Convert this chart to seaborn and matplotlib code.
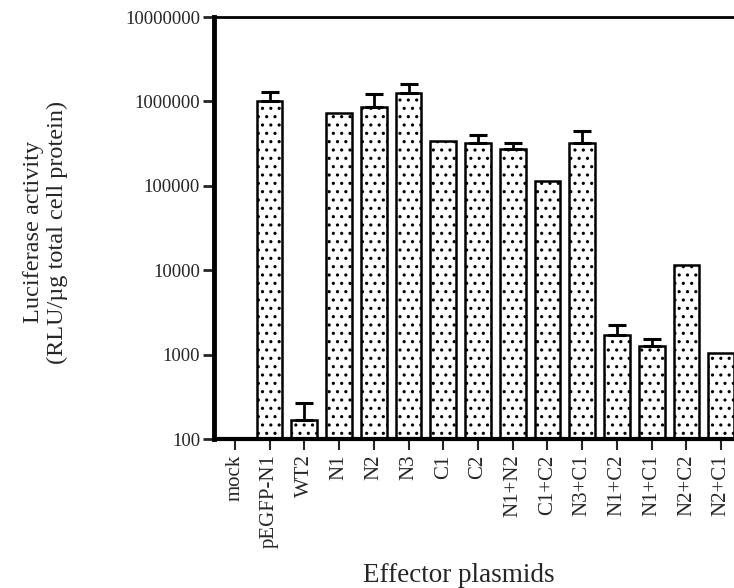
import numpy as np
import pandas as pd
import matplotlib
matplotlib.use('Agg')
import matplotlib.pyplot as plt
import seaborn as sns
from matplotlib.ticker import FixedLocator, FuncFormatter, NullLocator

plasmids = ['mock', 'pEGFP-N1', 'WT2', 'N1', 'N2', 'N3', 'C1', 'C2',
            'N1+N2', 'C1+C2', 'N3+C1', 'N1+C2', 'N1+C1', 'N2+C2', 'N2+C1']
activity = [100, 1000000, 168, 723000, 851000, 1270000, 340000, 318000,
            273000, 114000, 318000, 1690, 1265, 11400, 1050]
upper_err = [0, 280000, 101, 0, 369000, 340000, 0, 82000,
             45000, 0, 132000, 550, 255, 0, 0]

df = pd.DataFrame({'plasmid': plasmids, 'activity': activity, 'err': upper_err})

sns.set_style('white')
plt.rcParams['font.family'] = ['Liberation Serif', 'DejaVu Serif']
plt.rcParams['hatch.linewidth'] = 1.1
plt.rcParams['hatch.color'] = 'black'

fig = plt.figure(figsize=(7.34, 5.88), dpi=100)
ax = fig.add_axes([214 / 734, 1 - 439 / 588, 1 - 214 / 734, (439 - 17) / 588])

sns.barplot(data=df, x='plasmid', y='activity', color='white', width=0.74,
            edgecolor='black', linewidth=1.8, ax=ax, errorbar=None)
for p in ax.patches:
    p.set_hatch('..')
    p.set_facecolor('white')

ax.set_yscale('log')
ax.set_ylim(100, 10000000)
ax.set_xlim(-0.6, 14.37)

# upper-only error bars
pos = np.arange(len(plasmids))
mask = (df['err'] > 0).to_numpy()
ax.errorbar(pos[mask], df['activity'][mask],
            yerr=[np.zeros(mask.sum()), df['err'][mask]],
            fmt='none', ecolor='black', elinewidth=2, capsize=6.5, capthick=2.2)

ax.yaxis.set_major_locator(FixedLocator([100, 1000, 10000, 100000, 1000000, 10000000]))
ax.yaxis.set_minor_locator(NullLocator())
ax.yaxis.set_major_formatter(FuncFormatter(lambda v, _: f'{int(round(v))}'))

ax.tick_params(axis='y', direction='out', length=8, width=2, labelsize=13.5, pad=2, left=True)
ax.tick_params(axis='x', direction='out', length=8, width=1.5, labelsize=15, pad=3,
               bottom=True, labelrotation=90)

ax.spines['left'].set_linewidth(3.5)
ax.spines['bottom'].set_linewidth(3)
ax.spines['top'].set_linewidth(2)
ax.spines['right'].set_visible(False)
for s in ['left', 'bottom', 'top']:
    ax.spines[s].set_color('black')

ax.set_ylabel('Luciferase activity\n(RLU/µg total cell protein)', fontsize=17.5,
              linespacing=1.2)
ax.set_xlabel('Effector plasmids', fontsize=19.5)
ax.yaxis.set_label_coords(-0.28, 0.49)
ax.xaxis.set_label_coords(0.47, -0.293)

fig.savefig('out.png', dpi=100)
